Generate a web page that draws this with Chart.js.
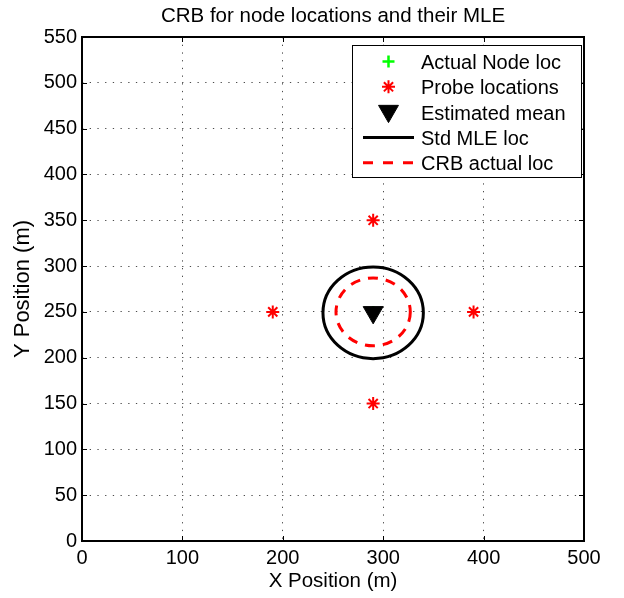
<!DOCTYPE html>
<html><head><meta charset="utf-8">
<script src="https://cdn.jsdelivr.net/npm/chart.js@4/dist/chart.umd.min.js"></script>
<style>html,body{margin:0;padding:0;background:#fff;} #wrap{width:624px;height:598px;}</style>
</head><body><div id="wrap"><canvas id="c" width="624" height="598"></canvas></div>
<script>
// ---- data ----
const chartTitle = 'CRB for node locations and their MLE';
const xAxisTitle = 'X Position (m)';
const yAxisTitle = 'Y Position (m)';
const xTicks = [0, 100, 200, 300, 400, 500];
const yTicks = [0, 50, 100, 150, 200, 250, 300, 350, 400, 450, 500, 550];
const seriesLabels = ['Actual Node loc', 'Probe locations', 'Estimated mean', 'Std MLE loc', 'CRB actual loc'];
const actualNodeX = [290];
const actualNodeY = [250];
const probeX = [190, 290, 390, 290];
const probeY = [250, 350, 250, 150];
const meanX = [290];
const meanY = [249.5];
const stdCircleCenter = [290, 249];
const stdCircleRadius = [50];
const crbCircleCenter = [290, 250];
const crbCircleRadius = [37];

const FONT = '"Liberation Sans", Arial, Helvetica, sans-serif';
const toPts = (xs, ys) => xs.map((x, i) => ({x: x, y: ys[i]}));

const styles = [
  {type: 'point', pointStyle: 'cross', radius: 6, color: '#00ff00', width: 2.5},
  {type: 'point', pointStyle: 'star', radius: 6.5, color: '#ff0000', width: 2},
  {type: 'point', pointStyle: 'triangle', radius: 11.5, rotation: 180, color: '#000000', fill: '#000000', width: 1},
  {type: 'line', color: '#000000', width: 3, dash: []},
  {type: 'line', color: '#ff0000', width: 3, dash: [10, 8]}
];

const circles = [
  {center: stdCircleCenter, radius: stdCircleRadius[0], style: styles[3]},
  {center: crbCircleCenter, radius: crbCircleRadius[0], style: styles[4]}
];

function drawMarker(ctx, st, x, y) {
  ctx.save();
  ctx.strokeStyle = st.color;
  ctx.fillStyle = st.fill || st.color;
  ctx.lineWidth = st.width;
  ctx.setLineDash([]);
  const r = st.radius;
  ctx.beginPath();
  if (st.pointStyle === 'cross') {
    ctx.moveTo(x - r, y); ctx.lineTo(x + r, y);
    ctx.moveTo(x, y - r); ctx.lineTo(x, y + r);
    ctx.stroke();
  } else if (st.pointStyle === 'star') {
    ctx.moveTo(x - r, y); ctx.lineTo(x + r, y);
    ctx.moveTo(x, y - r); ctx.lineTo(x, y + r);
    const d = r * Math.SQRT1_2;
    ctx.moveTo(x - d, y - d); ctx.lineTo(x + d, y + d);
    ctx.moveTo(x - d, y + d); ctx.lineTo(x + d, y - d);
    ctx.stroke();
  } else if (st.pointStyle === 'triangle') {
    let rad = Math.PI;
    ctx.moveTo(x + Math.sin(rad) * r, y - Math.cos(rad) * r);
    rad += 2 * Math.PI / 3;
    ctx.lineTo(x + Math.sin(rad) * r, y - Math.cos(rad) * r);
    rad += 2 * Math.PI / 3;
    ctx.lineTo(x + Math.sin(rad) * r, y - Math.cos(rad) * r);
    ctx.closePath();
    ctx.fill();
    ctx.stroke();
  }
  ctx.restore();
}

const framePlugin = {
  id: 'frame',
  afterDatasetsDraw(chart) {
    const {ctx, scales: {x, y}} = chart;
    circles.forEach(c => {
      const cx = x.getPixelForValue(c.center[0]);
      const cy = y.getPixelForValue(c.center[1]);
      const rx = Math.abs(x.getPixelForValue(c.center[0] + c.radius) - cx);
      const ry = Math.abs(y.getPixelForValue(c.center[1] + c.radius) - cy);
      ctx.save();
      ctx.strokeStyle = c.style.color;
      ctx.lineWidth = c.style.width;
      ctx.setLineDash(c.style.dash);
      ctx.beginPath();
      ctx.ellipse(cx, cy, rx, ry, 0, 0, Math.PI * 2);
      ctx.stroke();
      ctx.restore();
    });
  },
  afterDraw(chart) {
    const {ctx, chartArea: a, scales: {x, y}} = chart;
    ctx.save();
    ctx.strokeStyle = '#000';
    ctx.lineWidth = 2;
    ctx.setLineDash([]);
    ctx.strokeRect(a.left, a.top, a.right - a.left, a.bottom - a.top);
    ctx.lineWidth = 1;
    const tl = 5;
    ctx.beginPath();
    xTicks.forEach(v => {
      const px = Math.round(x.getPixelForValue(v)) + 0.5;
      ctx.moveTo(px, a.bottom); ctx.lineTo(px, a.bottom - tl);
      ctx.moveTo(px, a.top); ctx.lineTo(px, a.top + tl);
    });
    yTicks.forEach(v => {
      const py = Math.round(y.getPixelForValue(v)) + 0.5;
      ctx.moveTo(a.left, py); ctx.lineTo(a.left + tl, py);
      ctx.moveTo(a.right, py); ctx.lineTo(a.right - tl, py);
    });
    ctx.stroke();
    ctx.fillStyle = '#000';
    ctx.textAlign = 'center';
    ctx.textBaseline = 'alphabetic';
    ctx.font = '20.5px ' + FONT;
    const midX = (a.left + a.right) / 2;
    ctx.fillText(chartTitle, midX, 22);
    ctx.fillText(xAxisTitle, midX, 587);
    ctx.save();
    ctx.font = '22px ' + FONT;
    ctx.translate(29, (a.top + a.bottom) / 2);
    ctx.rotate(-Math.PI / 2);
    ctx.fillText(yAxisTitle, 0, 0);
    ctx.restore();
    const lx = 352, ly = 45, lw = 229, lh = 132;
    ctx.fillStyle = '#fff';
    ctx.fillRect(lx, ly, lw, lh);
    ctx.strokeStyle = '#000';
    ctx.lineWidth = 1;
    ctx.strokeRect(lx + 0.5, ly + 0.5, lw, lh);
    ctx.font = '20px ' + FONT;
    ctx.textAlign = 'left';
    ctx.textBaseline = 'alphabetic';
    seriesLabels.forEach((lab, i) => {
      const base = 69 + i * 25.3;
      const mid = base - 7.5;
      const st = styles[i];
      if (st.type === 'point') {
        drawMarker(ctx, st, 388.5, st.pointStyle === 'triangle' ? mid - 1 : mid);
      } else {
        ctx.save();
        ctx.strokeStyle = st.color;
        ctx.lineWidth = st.width;
        ctx.setLineDash(st.dash.length ? [10, 10] : []);
        ctx.beginPath();
        ctx.moveTo(363, mid); ctx.lineTo(414, mid);
        ctx.stroke();
        ctx.restore();
      }
      ctx.fillStyle = '#000';
      ctx.fillText(lab, 421, base);
    });
    ctx.restore();
  }
};

const tickFont = {family: FONT, size: 20};
const gridOpts = {color: 'rgba(0,0,0,0.7)', lineWidth: 1, drawTicks: false};

new Chart(document.getElementById('c'), {
  type: 'scatter',
  data: {
    datasets: [
      {label: seriesLabels[0], data: toPts(actualNodeX, actualNodeY), pointStyle: 'cross',
       pointRadius: styles[0].radius, borderColor: styles[0].color, backgroundColor: styles[0].color,
       pointBorderWidth: styles[0].width, order: 3},
      {label: seriesLabels[1], data: toPts(probeX, probeY), pointStyle: 'star',
       pointRadius: styles[1].radius, borderColor: styles[1].color, backgroundColor: styles[1].color,
       pointBorderWidth: styles[1].width, order: 2},
      {label: seriesLabels[2], data: toPts(meanX, meanY), pointStyle: 'triangle', rotation: 180,
       pointRadius: styles[2].radius, borderColor: '#000', backgroundColor: '#000',
       pointBorderWidth: styles[2].width, order: 1}
    ]
  },
  options: {
    responsive: false,
    animation: false,
    devicePixelRatio: 1,
    events: [],
    layout: {padding: {top: 37, right: 40, left: 0, bottom: 0}},
    plugins: {legend: {display: false}, title: {display: false}, tooltip: {enabled: false}},
    scales: {
      x: {
        type: 'linear', min: 0, max: 500,
        afterBuildTicks: s => { s.ticks = xTicks.map(v => ({value: v})); },
        afterFit: s => { s.height = 57; },
        ticks: {font: tickFont, color: '#000', padding: 5, maxRotation: 0, autoSkip: false},
        grid: gridOpts,
        border: {display: false, dash: [1.3, 6.4]}
      },
      y: {
        type: 'linear', min: 0, max: 550,
        afterBuildTicks: s => { s.ticks = yTicks.map(v => ({value: v})); },
        afterFit: s => { s.width = 82; },
        ticks: {font: tickFont, color: '#000', padding: 5, autoSkip: false},
        grid: gridOpts,
        border: {display: false, dash: [1.3, 6.4]}
      }
    }
  },
  plugins: [framePlugin]
});
</script>
</body></html>
